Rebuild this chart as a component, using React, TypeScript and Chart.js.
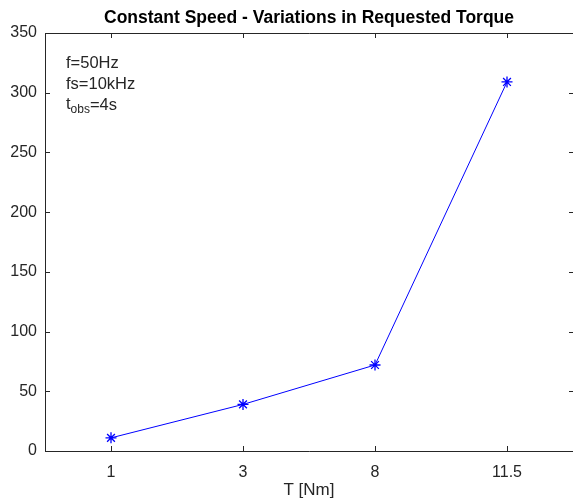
import React, { useEffect, useRef } from "react";
import { Chart, registerables } from "chart.js";

Chart.register(...registerables);

const torqueLabels = ["1", "3", "8", "11.5"];
const measuredValues = [11, 39, 72, 309];
const yTicks = [0, 50, 100, 150, 200, 250, 300, 350];
const chartTitle = "Constant Speed - Variations in Requested Torque";
const xTitle = "T [Nm]";

const AXIS = "#262626";
const FONT = "'Liberation Sans', Arial, Helvetica, sans-serif";

const matlabPlugin = {
  id: "matlabBox",
  afterDraw(chart: any) {
    const { ctx, chartArea } = chart;
    const { left, right, top, bottom } = chartArea;
    const xs = chart.scales.x;
    const ys = chart.scales.y;
    ctx.save();
    ctx.strokeStyle = AXIS;
    ctx.lineWidth = 1;
    ctx.beginPath();
    ctx.moveTo(left + 0.5, top + 0.5);
    ctx.lineTo(right + 1.5, top + 0.5);
    ctx.lineTo(right + 1.5, bottom + 0.5);
    ctx.lineTo(left + 0.5, bottom + 0.5);
    ctx.closePath();
    ctx.stroke();
    const tl = 5;
    ctx.beginPath();
    torqueLabels.forEach((_, i) => {
      const px = Math.round(xs.getPixelForValue(i + 1)) + 0.5;
      ctx.moveTo(px, bottom);
      ctx.lineTo(px, bottom - tl);
      ctx.moveTo(px, top);
      ctx.lineTo(px, top + tl);
    });
    yTicks.forEach((v) => {
      const py = Math.round(ys.getPixelForValue(v)) + 0.5;
      ctx.moveTo(left, py);
      ctx.lineTo(left + tl, py);
      ctx.moveTo(right + 1, py);
      ctx.lineTo(right + 1 - tl, py);
    });
    ctx.stroke();

    // title
    ctx.fillStyle = "#000000";
    ctx.textAlign = "center";
    ctx.textBaseline = "middle";
    ctx.font = `bold 17.5px ${FONT}`;
    const cx = (left + right) / 2;
    ctx.fillText(chartTitle, cx, 18);

    // x title
    ctx.fillStyle = AXIS;
    ctx.font = `17px ${FONT}`;
    ctx.fillText(xTitle, cx, 490);

    // annotation
    ctx.textAlign = "left";
    ctx.font = `16.5px ${FONT}`;
    ctx.fillText("f=50Hz", 66, 63);
    ctx.fillText("fs=10kHz", 66, 84);
    ctx.fillText("t", 66, 104);
    const tw = ctx.measureText("t").width;
    ctx.font = `12px ${FONT}`;
    ctx.fillText("obs", 66 + tw, 110);
    const sw = ctx.measureText("obs").width;
    ctx.font = `16.5px ${FONT}`;
    ctx.fillText("=4s", 66 + tw + sw, 105);
    ctx.restore();
  },
};

export default function App() {
  const ref = useRef<HTMLCanvasElement>(null);
  useEffect(() => {
    document.body.style.margin = "0";
    const canvas = ref.current!;
    const chart = new Chart(canvas, {
      type: "line",
      data: {
        datasets: [
          {
            data: measuredValues.map((v, i) => ({ x: i + 1, y: v })),
            borderColor: "#0000ff",
            backgroundColor: "#0000ff",
            borderWidth: 1,
            pointStyle: "star",
            pointRadius: 5.5,
            pointBorderWidth: 1.3,
            pointBorderColor: "#0000ff",
            tension: 0,
            fill: false,
            clip: false as any,
          },
        ],
      },
      options: {
        animation: false,
        responsive: false,
        events: [],
        layout: { autoPadding: false, padding: { top: 33, left: 0, right: 0, bottom: 0 } },
        plugins: {
          legend: { display: false },
          tooltip: { enabled: false },
          title: { display: false },
        },
        scales: {
          x: {
            type: "linear",
            min: 0.5,
            max: 4.5,
            afterBuildTicks: (s: any) => {
              s.ticks = torqueLabels.map((_, i) => ({ value: i + 1 }));
            },
            afterFit: (s: any) => {
              s.height = 53;
              s.paddingLeft = 0;
              s.paddingRight = 0;
            },
            grid: { display: false },
            border: { display: false },
            ticks: {
              callback: (v: any) => torqueLabels[Number(v) - 1] ?? "",
              color: AXIS,
              font: { family: FONT, size: 16 },
              padding: 4,
              maxRotation: 0,
              autoSkip: false,
            },
          },
          y: {
            type: "linear",
            min: 0,
            max: 350,
            afterBuildTicks: (s: any) => {
              s.ticks = yTicks.map((v) => ({ value: v }));
            },
            afterFit: (s: any) => {
              s.width = 45;
              s.paddingTop = 0;
              s.paddingBottom = 0;
            },
            grid: { display: false },
            border: { display: false },
            ticks: {
              color: AXIS,
              font: { family: FONT, size: 16 },
              padding: 0,
            },
          },
        },
      },
      plugins: [matlabPlugin],
    });
    return () => chart.destroy();
  }, []);
  return (
    <div style={{ width: 573, height: 504, background: "#ffffff" }}>
      <canvas ref={ref} width={573} height={504} style={{ display: "block" }} />
    </div>
  );
}
